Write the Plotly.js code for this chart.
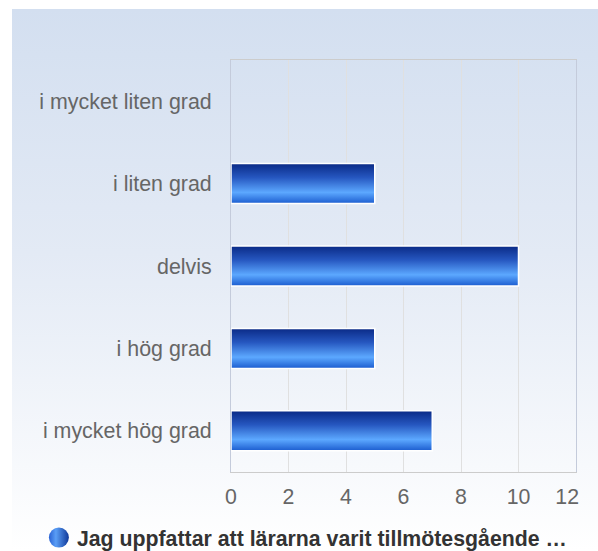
<!DOCTYPE html>
<html>
<head>
<meta charset="utf-8">
<script src="https://cdn.plot.ly/plotly-3.0.1.min.js"></script>
<style>
html,body{margin:0;padding:0;background:#ffffff;}
#bg{position:absolute;left:12px;top:9px;width:586px;height:542px;background:linear-gradient(to bottom,#d3dff0 0%,#e3eaf5 45%,#ffffff 100%);}
#chart{position:absolute;left:0;top:0;width:598px;height:551px;}
</style>
</head>
<body>
<div id="bg"></div>
<div id="chart"></div>
<script>
var categories = ["i mycket liten grad", "i liten grad", "delvis", "i hög grad", "i mycket hög grad"];
var values = [0, 5, 10, 5, 7];
var seriesName = "Jag uppfattar att lärarna varit tillmötesgående …";
var xTicks = [0, 2, 4, 6, 8, 10, 12];
var xTickText = ["0", "2", "4", "6", "8", "10", "12\u00a0\u00a0\u00a0"];

var font = "'Liberation Sans', Arial, sans-serif";

var trace = {
  type: "bar",
  orientation: "h",
  y: categories,
  x: values,
  name: seriesName,
  marker: {
    color: "#2f6ad8",
    line: {color: "#ffffff", width: values.map(function(v){ return v > 0 ? 1.5 : 0; })}
  },
  hoverinfo: "none",
  showlegend: true
};

var layout = {
  width: 598,
  height: 551,
  paper_bgcolor: "rgba(0,0,0,0)",
  plot_bgcolor: "rgba(0,0,0,0)",
  margin: {l: 231, r: 22, t: 60, b: 79, pad: 0},
  bargap: 0.515,
  font: {family: font, size: 21, color: "#666666"},
  xaxis: {
    range: [0, 12],
    tickvals: xTicks,
    ticktext: xTickText,
    ticklabeloverflow: "allow",
    showgrid: true,
    gridcolor: "#e0e0e0",
    gridwidth: 1,
    zeroline: false,
    showline: true,
    linecolor: "#cccccc",
    linewidth: 1,
    mirror: true,
    ticks: "outside",
    ticklen: 5,
    tickcolor: "rgba(0,0,0,0)",
    tickfont: {family: font, size: 21.3, color: "#666666"},
    fixedrange: true
  },
  yaxis: {
    type: "category",
    autorange: "reversed",
    showgrid: false,
    zeroline: false,
    showline: true,
    linecolor: "#c4cbdb",
    linewidth: 1,
    mirror: true,
    ticks: "outside",
    ticklen: 14,
    tickcolor: "rgba(0,0,0,0)",
    tickfont: {family: font, size: 21.4, color: "#666666"},
    fixedrange: true
  },
  showlegend: true,
  legend: {
    orientation: "h",
    xref: "container",
    yref: "container",
    x: 0.509,
    xanchor: "center",
    y: 0.005,
    yanchor: "bottom",
    font: {family: font, size: 21.3, color: "#333333", weight: "bold"},
    bgcolor: "rgba(0,0,0,0)",
    itemclick: false,
    itemdoubleclick: false
  }
};

function decorate(gd){
  var svgNS = "http://www.w3.org/2000/svg";
  var svg = gd.querySelector("svg.main-svg");
  if (!document.getElementById("barGrad")) {
    var defs = document.createElementNS(svgNS, "defs");
    defs.innerHTML =
      '<linearGradient id="barGrad" x1="0" y1="0" x2="0" y2="1">' +
      '<stop offset="0" stop-color="#0a2a86"/>' +
      '<stop offset="0.35" stop-color="#2657c0"/>' +
      '<stop offset="0.72" stop-color="#5ca8ff"/>' +
      '<stop offset="1" stop-color="#1b5ccf"/>' +
      '</linearGradient>' +
      '<linearGradient id="dotGrad" x1="0" y1="0" x2="1" y2="0">' +
      '<stop offset="0" stop-color="#2a62d4"/>' +
      '<stop offset="0.35" stop-color="#5a9ef6"/>' +
      '<stop offset="1" stop-color="#0f3899"/>' +
      '</linearGradient>';
    svg.insertBefore(defs, svg.firstChild);
  }
  gd.querySelectorAll("g.barlayer path, g.trace.bars path").forEach(function(p){
    p.style.setProperty("fill", "url(#barGrad)", "important");
    p.setAttribute("fill", "url(#barGrad)");
  });
  gd.querySelectorAll(".legend .legendpoints path").forEach(function(p){
    if (p.getAttribute("data-done")) return;
    p.setAttribute("data-done", "1");
    p.setAttribute("d", "M10,0A10,10 0 1,1 -10,0A10,10 0 1,1 10,0Z");
    var pt = p.getAttribute("transform") || "";
    p.setAttribute("transform", pt + " translate(2,0)");
    p.style.setProperty("fill", "url(#dotGrad)", "important");
    p.style.stroke = "none";
  });
  var leg = gd.querySelector("g.legend");
  if (leg && !leg.getAttribute("data-shifted")) {
    var t = leg.getAttribute("transform") || "";
    leg.setAttribute("transform", t + " translate(0,10)");
    leg.setAttribute("data-shifted", "1");
  }
}

Plotly.newPlot("chart", [trace], layout, {staticPlot: true, displayModeBar: false}).then(function(gd){
  decorate(gd);
  setTimeout(function(){ decorate(gd); }, 50);
});
</script>
</body>
</html>
